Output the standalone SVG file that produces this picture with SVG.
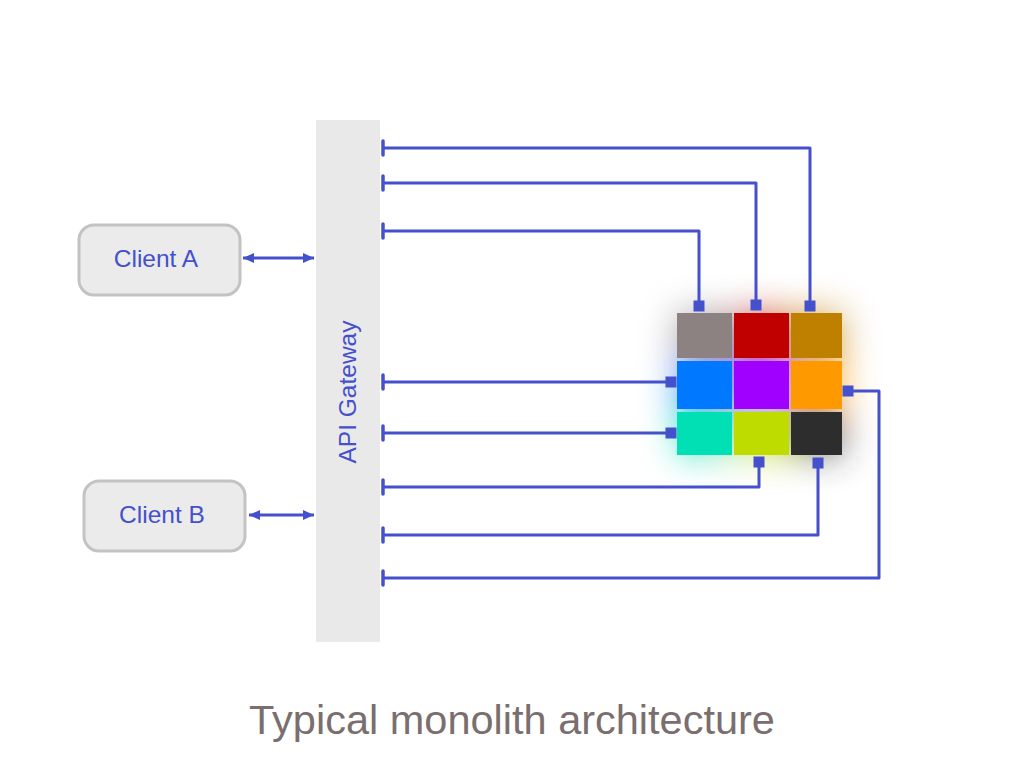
<svg xmlns="http://www.w3.org/2000/svg" width="1024" height="768" viewBox="0 0 1024 768">
<style>
.client{fill:#ebebeb;stroke:#c3c3c3;stroke-width:3}
.lbl{font-family:"Liberation Sans",Arial,sans-serif;font-size:24.5px;fill:#4450cc;text-anchor:middle}
.conn{fill:none;stroke:#4450cc;stroke-width:3;stroke-linejoin:round}
.link{marker-start:url(#tee);marker-end:url(#sq)}
.biarrow{marker-start:url(#ah);marker-end:url(#ah)}
.title{font-family:"Liberation Sans",Arial,sans-serif;font-size:41.5px;fill:#7a6e6e;text-anchor:middle}
</style>
<defs>
<marker id="tee" markerUnits="userSpaceOnUse" markerWidth="10" markerHeight="20" viewBox="-5 -10 10 20" refX="0" refY="0" orient="auto">
<path d="M0,-7 V7" stroke="#4450cc" stroke-width="3.5" stroke-linecap="round"/>
</marker>
<marker id="sq" markerUnits="userSpaceOnUse" markerWidth="14" markerHeight="14" viewBox="-7 -7 14 14" refX="0" refY="0" orient="auto">
<rect x="-5.5" y="-5.5" width="11" height="11" fill="#4450cc"/>
</marker>
<marker id="ah" markerUnits="userSpaceOnUse" markerWidth="14" markerHeight="14" viewBox="0 -7 14 14" refX="11" refY="0" orient="auto-start-reverse">
<path d="M0,-5 L11,0 L0,5 Z" fill="#4450cc"/>
</marker>
<filter id="glow" x="-60%" y="-60%" width="220%" height="220%">
<feGaussianBlur stdDeviation="18"/>
</filter>
</defs>

<g id="gateway">
<rect x="316" y="120" width="64" height="522" fill="#e9e9e9"/>
<text class="lbl" transform="translate(356,392) rotate(-90)">API Gateway</text>
</g>

<g id="client-a">
<rect class="client" x="79" y="225" width="161" height="70" rx="15"/>
<text class="lbl" x="156" y="267">Client A</text>
</g>

<g id="client-b">
<rect class="client" x="84" y="481" width="161" height="70" rx="15"/>
<text class="lbl" x="162" y="523">Client B</text>
</g>

<g id="monolith">
<g filter="url(#glow)" opacity="0.7">
<rect x="677" y="313" width="55" height="46" fill="#8c8282"/>
<rect x="733" y="313" width="57" height="46" fill="#c00000"/>
<rect x="791" y="313" width="51" height="46" fill="#bf8000"/>
<rect x="677" y="360" width="55" height="50" fill="#0078ff"/>
<rect x="733" y="360" width="57" height="50" fill="#a000ff"/>
<rect x="791" y="360" width="51" height="50" fill="#ff9900"/>
<rect x="677" y="411" width="55" height="44" fill="#00e0b4"/>
<rect x="733" y="411" width="57" height="44" fill="#bedc00"/>
<rect x="791" y="411" width="51" height="44" fill="#2d2d2d"/>
</g>
<rect x="677" y="313" width="55" height="45" fill="#8c8282"/>
<rect x="734" y="313" width="55" height="45" fill="#c00000"/>
<rect x="791" y="313" width="51" height="45" fill="#bf8000"/>
<rect x="677" y="361" width="55" height="48" fill="#0078ff"/>
<rect x="734" y="361" width="55" height="48" fill="#a000ff"/>
<rect x="791" y="361" width="51" height="48" fill="#ff9900"/>
<rect x="677" y="412" width="55" height="43" fill="#00e0b4"/>
<rect x="734" y="412" width="55" height="43" fill="#bedc00"/>
<rect x="791" y="412" width="51" height="43" fill="#2d2d2d"/>
</g>

<g id="connectors">
<path class="conn biarrow" d="M243,258 H314"/>
<path class="conn biarrow" d="M249,515 H314"/>
<path class="conn link" d="M383,148 H810 V306"/>
<path class="conn link" d="M383,183 H756 V305"/>
<path class="conn link" d="M383,231 H699 V306"/>
<path class="conn link" d="M383,382 H671"/>
<path class="conn link" d="M383,433 H671"/>
<path class="conn link" d="M383,487 H759 V462"/>
<path class="conn link" d="M383,535 H818 V463"/>
<path class="conn link" d="M383,578 H879 V391 H848"/>
</g>

<text class="title" x="512" y="734">Typical monolith architecture</text>
</svg>
